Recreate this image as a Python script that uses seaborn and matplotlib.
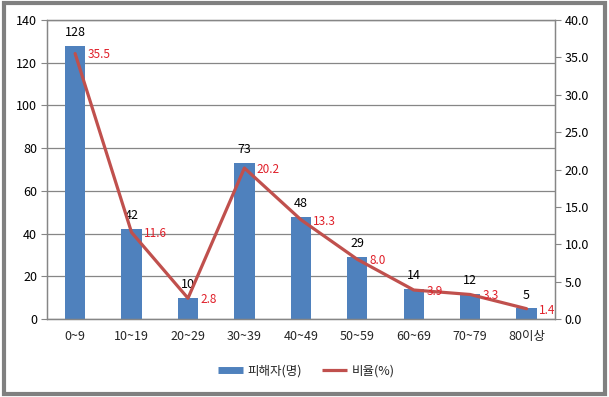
import matplotlib
matplotlib.use('Agg')
import matplotlib.pyplot as plt
import numpy as np
import seaborn as sns
from matplotlib.lines import Line2D
from matplotlib.patches import Rectangle

# data
ages = ['0~9', '10~19', '20~29', '30~39', '40~49', '50~59', '60~69', '70~79', '80이상']
victims = [128, 42, 10, 73, 48, 29, 14, 12, 5]
ratio = [35.5, 11.6, 2.8, 20.2, 13.3, 8.0, 3.9, 3.3, 1.4]

sns.set_style('white')
plt.rcParams['font.family'] = ['Noto Sans CJK KR', 'DejaVu Sans']

bar_color = '#4F81BD'
line_color = '#C0504D'
grid_color = '#868686'

fig = plt.figure(figsize=(6.09, 3.97), dpi=100)
ax = fig.add_axes([0.077, 0.196, 0.834, 0.754])

pos = np.arange(len(ages))
sns.barplot(x=ages, y=victims, ax=ax, color=bar_color, width=0.36, saturation=1,
            edgecolor=bar_color, linewidth=0)
ax.set_ylim(0, 140)
ax.set_yticks(range(0, 141, 20))
ax.set_xlim(-0.5, len(ages) - 0.5)
ax.yaxis.grid(True, color=grid_color, lw=0.9)
ax.set_axisbelow(True)

for x, v in zip(pos, victims):
    ax.annotate(str(v), (x, v), xytext=(0, 5), textcoords='offset points',
                ha='center', va='bottom', fontsize=9, color='black')

ax2 = ax.twinx()
sns.lineplot(x=pos, y=ratio, ax=ax2, color=line_color, lw=2.3)
ax2.set_ylim(0, 40)
ax2.set_yticks(np.arange(0, 40.1, 5))
ax2.set_yticklabels([f'{t:.1f}' for t in np.arange(0, 40.1, 5)])
ax2.set_xlim(-0.5, len(ages) - 0.5)

for x, v in zip(pos, ratio):
    ax2.annotate(f'{v:.1f}', (x, v), xytext=(9, -1), textcoords='offset points',
                 ha='left', va='center', fontsize=8.5, color='#E0202A')

for a in (ax, ax2):
    for s in a.spines.values():
        s.set_color(grid_color)
        s.set_linewidth(0.9)
    a.tick_params(axis='y', length=4, color=grid_color, labelsize=9, labelcolor='black', pad=3)
    a.set_xlabel('')
    a.set_ylabel('')

ax.set_xticks(pos)
ax.set_xticklabels(ages)
ax.tick_params(axis='x', length=0, labelsize=9, pad=8)
ax.set_xticks(np.arange(-0.5, len(ages), 1), minor=True)
ax.tick_params(axis='x', which='minor', length=4, color=grid_color)
ax.tick_params(axis='y', left=True)
ax2.tick_params(axis='y', right=True)

handles = [Line2D([0], [0], color=bar_color, lw=5, solid_capstyle='butt'),
           Line2D([0], [0], color=line_color, lw=2.3, solid_capstyle='butt')]
fig.legend(handles, ['피해자(명)', '비율(%)'], loc='center', bbox_to_anchor=(0.503, 0.065),
           ncol=2, frameon=False, fontsize=9, handlelength=2.0, columnspacing=1.6,
           handletextpad=0.4)

fig.patches.append(Rectangle((0.006, 0.008), 0.988, 0.984, transform=fig.transFigure,
                             fill=False, edgecolor='#808080', lw=3))

fig.savefig('out.png', dpi=100)
